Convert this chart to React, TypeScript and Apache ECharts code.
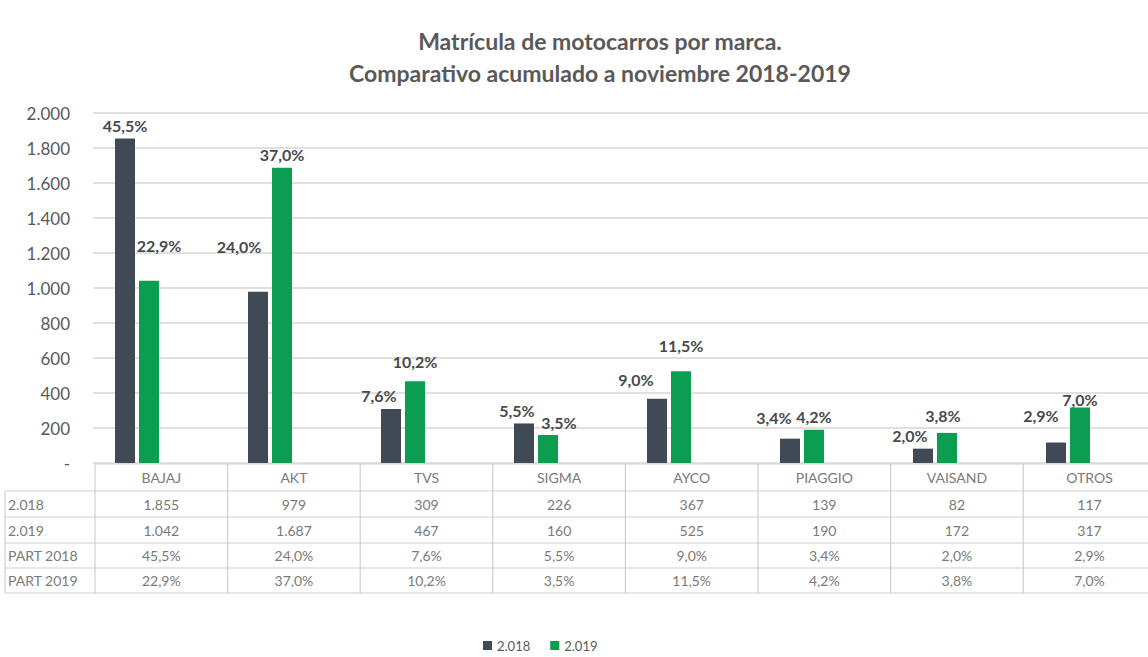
import React, { useEffect, useRef } from "react";
import * as echarts from "echarts";

const categories = ["BAJAJ", "AKT", "TVS", "SIGMA", "AYCO", "PIAGGIO", "VAISAND", "OTROS"];
const values2018 = [1855, 979, 309, 226, 367, 139, 82, 117];
const values2019 = [1042, 1687, 467, 160, 525, 190, 172, 317];
const part2018 = [45.5, 24.0, 7.6, 5.5, 9.0, 3.4, 2.0, 2.9];
const part2019 = [22.9, 37.0, 10.2, 3.5, 11.5, 4.2, 3.8, 7.0];
const seriesNames = ["2.018", "2.019"];
const rowLabels = ["2.018", "2.019", "PART 2018", "PART 2019"];
const yTicks = { min: 0, max: 2000, interval: 200 };

// label nudges (layout only)
const labelOffset2018: number[][] = [[0, 0], [-19, -32], [-12, 0], [-7, 0], [-21, -6], [-16, -8], [-13, 0], [-15, -14]];
const labelOffset2019: number[][] = [[10, -22], [0, 0], [0, -7], [11, 0], [0, -13], [0, 0], [-4, -4], [0, 5]];

const fmtNum = (v: number) => v.toLocaleString("de-DE");
const fmtPct = (v: number) => v.toFixed(1).replace(".", ",") + "%";

const FONT = "Lato, 'Open Sans', sans-serif";
const TXT = "#595959";
const TABLE_TXT = "#7a7a7a";
const BORDER = "#cfcfcf";

export default function App() {
  const ref = useRef<HTMLDivElement>(null);
  useEffect(() => {
    if (!ref.current) return;
    document.body.style.margin = "0";
    const chart = echarts.init(ref.current, undefined, { renderer: "svg" });

    // table layout
    const colX0 = 95;
    const colW = 132.6;
    const rowLabelX = 5;
    const headerTop = 464;
    const rowLines = [491, 517, 543, 568, 593];
    const right = 1148;
    const graphics: any[] = [];
    graphics.push({ type: "line", shape: { x1: colX0, y1: headerTop, x2: right, y2: headerTop }, style: { stroke: BORDER, lineWidth: 1.2 } });
    rowLines.forEach((y) => {
      graphics.push({ type: "line", shape: { x1: rowLabelX, y1: y, x2: right, y2: y }, style: { stroke: BORDER, lineWidth: 1.2 } });
    });
    graphics.push({ type: "line", shape: { x1: rowLabelX, y1: rowLines[0], x2: rowLabelX, y2: rowLines[4] }, style: { stroke: BORDER, lineWidth: 1.2 } });
    for (let i = 0; i < categories.length; i++) {
      const x = colX0 + i * colW;
      graphics.push({ type: "line", shape: { x1: x, y1: headerTop, x2: x, y2: rowLines[4] }, style: { stroke: BORDER, lineWidth: 1.2 } });
    }
    const rows = [values2018.map(fmtNum), values2019.map(fmtNum), part2018.map(fmtPct), part2019.map(fmtPct)];
    categories.forEach((c, i) => {
      const cx = colX0 + i * colW + colW / 2;
      graphics.push({ type: "text", x: cx, y: (headerTop + rowLines[0]) / 2, style: { text: c, fill: TABLE_TXT, font: `14px ${FONT}`, align: "center", verticalAlign: "middle" } });
      rows.forEach((r, j) => {
        graphics.push({ type: "text", x: cx, y: (rowLines[j] + rowLines[j + 1]) / 2, style: { text: r[i], fill: TABLE_TXT, font: `14px ${FONT}`, align: "center", verticalAlign: "middle" } });
      });
    });
    rowLabels.forEach((l, j) => {
      graphics.push({ type: "text", x: rowLabelX + 3, y: (rowLines[j] + rowLines[j + 1]) / 2, style: { text: l, fill: TABLE_TXT, font: `14px ${FONT}`, align: "left", verticalAlign: "middle" } });
    });

    const mkData = (vals: number[], parts: number[], offs: number[][]) =>
      vals.map((v, i) => ({ value: v, label: { formatter: fmtPct(parts[i]), offset: offs[i] } }));

    chart.setOption({
      animation: false,
      title: {
        text: "Matrícula de motocarros por marca.\nComparativo acumulado a noviembre 2018-2019",
        left: 595,
        top: 20,
        textAlign: "center",
        textStyle: { fontFamily: FONT, fontWeight: "bold", fontSize: 23, color: TXT, lineHeight: 32 },
      },
      legend: {
        data: seriesNames,
        left: 478,
        top: 634,
        itemWidth: 9,
        itemHeight: 9,
        itemGap: 20,
        icon: "rect",
        textStyle: { fontFamily: FONT, fontSize: 13, color: TXT },
      },
      grid: [
        { left: 93, right: 0, top: 113, bottom: 194, containLabel: false },
        { left: 70.5, right: 13.5, top: 113, bottom: 194, containLabel: false },
      ],
      xAxis: [
        { type: "category", data: categories, gridIndex: 0, show: false },
        { type: "category", data: categories, gridIndex: 1, show: false },
      ],
      yAxis: [
        {
          type: "value",
          gridIndex: 0,
          min: yTicks.min,
          max: yTicks.max,
          interval: yTicks.interval,
          axisLine: { show: false },
          axisTick: { show: false },
          splitLine: { lineStyle: { color: "#d6d6d6", width: 1.5 } },
          axisLabel: {
            margin: 23,
            fontFamily: FONT,
            fontSize: 17,
            color: TXT,
            formatter: (v: number) => (v === 0 ? "-" : fmtNum(v)),
          },
        },
        { type: "value", gridIndex: 1, min: yTicks.min, max: yTicks.max, interval: yTicks.interval, show: false, splitLine: { show: false } },
      ],
      series: [
        {
          name: seriesNames[0],
          type: "bar",
          xAxisIndex: 1,
          yAxisIndex: 1,
          barWidth: 20,
          barGap: "20%",
          itemStyle: { color: "#404a56" },
          label: { show: true, position: "top", fontFamily: FONT, fontWeight: "bold", fontSize: 16, color: "#4a4a4a" },
          data: mkData(values2018, part2018, labelOffset2018),
        },
        {
          name: seriesNames[1],
          type: "bar",
          xAxisIndex: 1,
          yAxisIndex: 1,
          barWidth: 20,
          barGap: "20%",
          itemStyle: { color: "#0c9e50" },
          label: { show: true, position: "top", fontFamily: FONT, fontWeight: "bold", fontSize: 16, color: "#4a4a4a" },
          data: mkData(values2019, part2019, labelOffset2019),
        },
      ],
      graphic: graphics,
    });
    return () => chart.dispose();
  }, []);
  return <div ref={ref} style={{ position: "absolute", left: 0, top: 0, width: 1148, height: 657, background: "#fff" }} />;
}
